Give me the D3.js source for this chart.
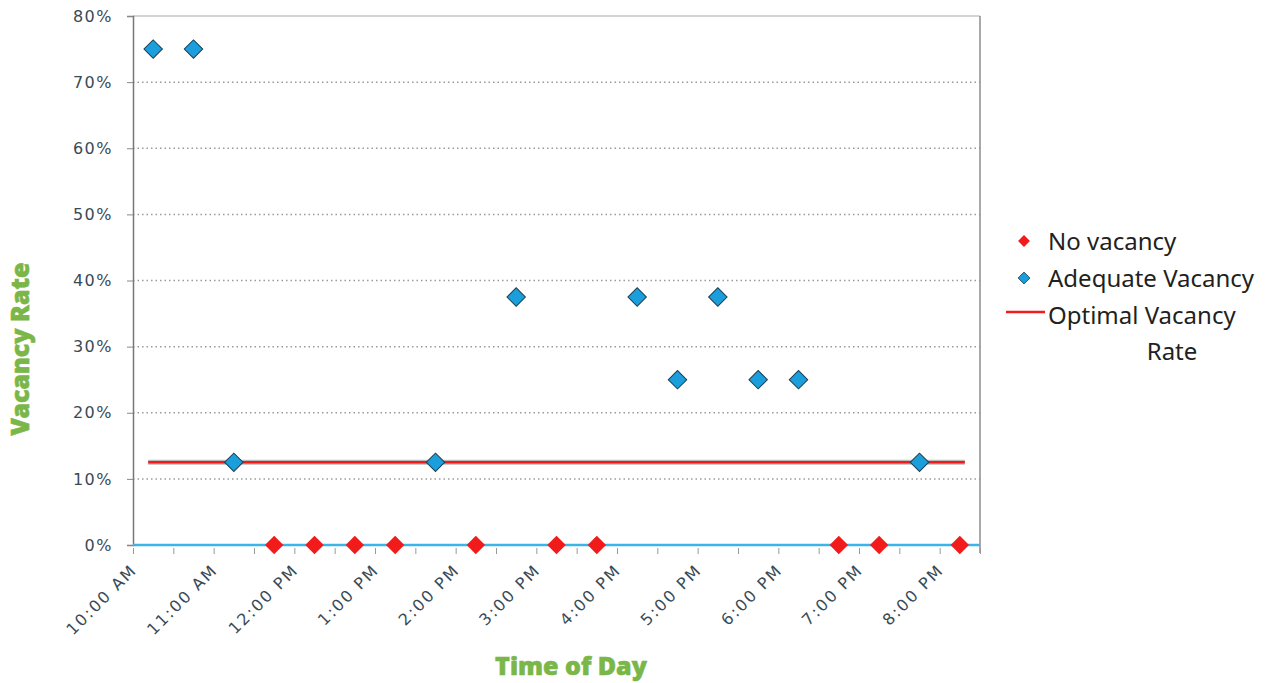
<!DOCTYPE html>
<html>
<head>
<meta charset="utf-8">
<script src="https://cdn.jsdelivr.net/npm/d3@7"></script>
<style>
  html, body { margin: 0; padding: 0; background: #fff; }
  svg { display: block; }
</style>
</head>
<body>
<svg id="chart" width="1282" height="683"></svg>
<script>
// Half-hour observation slots, 10:00 AM through 8:00 PM
const slots = ["10:00 AM","10:30 AM","11:00 AM","11:30 AM","12:00 PM","12:30 PM",
  "1:00 PM","1:30 PM","2:00 PM","2:30 PM","3:00 PM","3:30 PM","4:00 PM","4:30 PM",
  "5:00 PM","5:30 PM","6:00 PM","6:30 PM","7:00 PM","7:30 PM","8:00 PM"];

// Slots where the lot was full (0% vacancy)
const noVacancySlots = ["11:30 AM","12:00 PM","12:30 PM","1:00 PM","2:00 PM","3:00 PM",
  "3:30 PM","6:30 PM","7:00 PM","8:00 PM"];
const noVacancyValues = [0,0,0,0,0,0,0,0,0,0];

// Slots with spare spaces and their vacancy rate
const adequateSlots = ["10:00 AM","10:30 AM","11:00 AM","1:30 PM","2:30 PM","4:00 PM",
  "4:30 PM","5:00 PM","5:30 PM","6:00 PM","7:30 PM"];
const adequateValues = [0.75,0.75,0.125,0.125,0.375,0.375,0.25,0.375,0.25,0.25,0.125];

// Target vacancy rate line
const optimalRate = 0.125;

const yTicks = [0,0.1,0.2,0.3,0.4,0.5,0.6,0.7,0.8];
const xTickLabels = ["10:00 AM","11:00 AM","12:00 PM","1:00 PM","2:00 PM","3:00 PM",
  "4:00 PM","5:00 PM","6:00 PM","7:00 PM","8:00 PM"];

const seriesNames = ["No vacancy","Adequate Vacancy","Optimal Vacancy"];

const svg = d3.select("#chart");
const plot = {left: 133, right: 980, top: 16, bottom: 545};
const green = "#7ab648";
const blue = "#1a9fdc";
const red = "#f21b1b";

const x = d3.scaleBand().domain(slots).range([plot.left, plot.right]).padding(0);
const y = d3.scaleLinear().domain([0, 0.8]).range([plot.bottom, plot.top]);
// boundaries between slots, used for tick marks and hourly labels
const xb = d3.scaleLinear().domain([0, slots.length]).range([plot.left, plot.right]);

// gridlines
svg.append("g").selectAll("line")
  .data(yTicks.filter(d => d > 0 && d < 0.8))
  .join("line")
  .attr("x1", plot.left).attr("x2", plot.right)
  .attr("y1", d => y(d)).attr("y2", d => y(d))
  .attr("stroke", "#9a9a9a").attr("stroke-width", 1.5)
  .attr("stroke-dasharray", "1.5,3");

// top and right plot frame
svg.append("line")
  .attr("x1", plot.left).attr("x2", plot.right)
  .attr("y1", plot.top).attr("y2", plot.top)
  .attr("stroke", "#d4d4d4").attr("stroke-width", 2);
svg.append("line")
  .attr("x1", plot.right).attr("x2", plot.right)
  .attr("y1", plot.top).attr("y2", plot.bottom + 8)
  .attr("stroke", "#8c8c8c").attr("stroke-width", 1.5);

// y axis
const yAxis = d3.axisLeft(y).tickValues(yTicks).tickSize(6).tickPadding(14)
  .tickFormat(d => Math.round(d * 100) + "%");
const gy = svg.append("g").attr("transform", `translate(${plot.left},0)`).call(yAxis);
gy.select(".domain").attr("stroke", "#777").attr("stroke-width", 1.5);
gy.selectAll(".tick line").attr("stroke", "#888");
gy.selectAll(".tick text")
  .attr("font-family", "DejaVu Sans, Verdana, sans-serif")
  .attr("font-size", 16).attr("letter-spacing", 1.5)
  .attr("fill", "#3a4a55");

// x axis: tick at every slot boundary, label every hour
const boundaries = d3.range(0, slots.length + 1);
const gx = svg.append("g").attr("transform", `translate(0,${plot.bottom})`);
gx.call(d3.axisBottom(xb).tickValues(boundaries).tickSize(6).tickFormat(""));
gx.select(".domain").remove();
gx.selectAll(".tick line").attr("stroke", "#999").attr("y1", 3).attr("y2", 9);
gx.append("line")
  .attr("x1", plot.left).attr("x2", plot.right)
  .attr("stroke", "#3db4e8").attr("stroke-width", 2.5);

gx.selectAll("text.hour")
  .data(xTickLabels)
  .join("text")
  .attr("class", "hour")
  .attr("transform", (d, i) => `translate(${xb(i * 2) + 5},${26}) rotate(-45)`)
  .attr("text-anchor", "end")
  .attr("font-family", "DejaVu Sans, Verdana, sans-serif")
  .attr("font-size", 16).attr("letter-spacing", 2)
  .attr("fill", "#3a4a55")
  .text(d => d);

// optimal vacancy rate line spanning first to last slot
const lineX1 = x(slots[0]) + x.bandwidth() / 2 - 5;
const lineX2 = x(slots[slots.length - 1]) + x.bandwidth() / 2 + 5;
svg.append("line")
  .attr("x1", lineX1).attr("x2", lineX2)
  .attr("y1", y(optimalRate)).attr("y2", y(optimalRate))
  .attr("stroke", "#bbbbbb").attr("stroke-width", 5);
svg.append("line")
  .attr("x1", lineX1).attr("x2", lineX2)
  .attr("y1", y(optimalRate)).attr("y2", y(optimalRate))
  .attr("stroke", red).attr("stroke-width", 2.5);

const diamond = d3.symbol().type(d3.symbolSquare).size(170);

// no-vacancy markers
svg.append("g").selectAll("path")
  .data(noVacancySlots.map((s, i) => ({s, v: noVacancyValues[i]})))
  .join("path")
  .attr("d", diamond)
  .attr("transform", d => `translate(${x(d.s) + x.bandwidth() / 2},${y(d.v)}) rotate(45)`)
  .attr("fill", red);

// adequate-vacancy markers
svg.append("g").selectAll("path")
  .data(adequateSlots.map((s, i) => ({s, v: adequateValues[i]})))
  .join("path")
  .attr("d", diamond)
  .attr("transform", d => `translate(${x(d.s) + x.bandwidth() / 2},${y(d.v)}) rotate(45)`)
  .attr("fill", blue)
  .attr("stroke", "#1b3f55").attr("stroke-width", 1);

// axis titles
svg.append("text")
  .attr("x", 571).attr("y", 675)
  .attr("text-anchor", "middle")
  .attr("font-family", "Noto Sans, sans-serif")
  .attr("font-weight", 900).attr("font-size", 25)
  .attr("fill", green).attr("stroke", green).attr("stroke-width", 0.6)
  .text("Time of Day");
svg.append("text")
  .attr("transform", "translate(29,349) rotate(-90)")
  .attr("text-anchor", "middle")
  .attr("font-family", "Noto Sans, sans-serif")
  .attr("font-weight", 900).attr("font-size", 25)
  .attr("fill", green).attr("stroke", green).attr("stroke-width", 0.6)
  .text("Vacancy Rate");

// legend
const lg = svg.append("g").attr("font-family", "Noto Sans, sans-serif")
  .attr("font-size", 24).attr("fill", "#231f20");
lg.append("path").attr("d", diamond.size(70)())
  .attr("transform", "translate(1024,241) rotate(45)").attr("fill", red);
lg.append("path").attr("d", diamond.size(70)())
  .attr("transform", "translate(1024,278) rotate(45)").attr("fill", blue)
  .attr("stroke", "#1b3f55").attr("stroke-width", 0.8);
lg.append("line").attr("x1", 1006).attr("x2", 1045).attr("y1", 312).attr("y2", 312)
  .attr("stroke", red).attr("stroke-width", 2.5);
lg.append("text").attr("x", 1048).attr("y", 250).text(seriesNames[0]);
lg.append("text").attr("x", 1048).attr("y", 287).text(seriesNames[1]);
lg.append("text").attr("x", 1048).attr("y", 324).text(seriesNames[2]);
lg.append("text").attr("x", 1172).attr("y", 360).attr("text-anchor", "middle").text("Rate");
</script>
</body>
</html>
